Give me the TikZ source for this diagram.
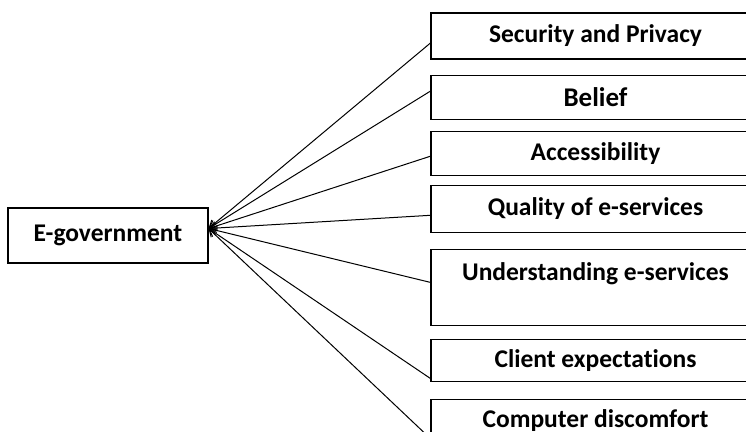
\documentclass[tikz,border=0pt]{standalone}
\usepackage{fontspec}
\setmainfont{Carlito}[Ligatures=NoCommon]
\usetikzlibrary{positioning,arrows.meta}
\tikzset{
    factor/.style={draw, line width=1.1pt, minimum width=329pt, inner sep=0pt,
        font=\bfseries\fontsize{25.5}{30}\selectfont},
    influence/.style={line width=1pt, -{Straight Barb[length=7pt,width=9pt]}}
}

\begin{document}
\begin{tikzpicture}[x=1pt,y=-1pt]
\useasboundingbox (0,0) rectangle (746,431);
\clip (0,0) rectangle (746,431);

\node[factor, minimum width=200pt, minimum height=55pt] (egov) at (108,235.5) {E-government};

\node[factor, minimum height=46pt] (sec) at (595.5,36) {Security and Privacy};
\node[factor, minimum height=44pt, below=15pt of sec] (bel) {\fontsize{27}{30}\selectfont Belief};
\node[factor, minimum height=44pt, below=11pt of bel] (acc) {Accessibility};
\node[factor, minimum height=47pt, below=9pt of acc] (qua) {Quality of e-services};
\node[factor, text height=31pt, text depth=45pt, below=16pt of qua] (und) {Understanding e-services};
\node[factor, minimum height=42pt, below=13pt of und] (cli) {Client expectations};
\node[factor, minimum height=42pt, below=17pt of cli] (com) {Computer discomfort};

\draw[influence] ([yshift=-7pt]sec.west) -- ([yshift=7pt]egov.east);
\draw[influence] ([yshift=6pt]bel.west) -- ([yshift=7pt]egov.east);
\draw[influence] ([yshift=-3pt]acc.west) -- ([yshift=7pt]egov.east);
\draw[influence] ([yshift=-6.5pt]qua.west) -- ([yshift=7pt]egov.east);
\draw[influence] ([yshift=5pt]und.west) -- ([yshift=7pt]egov.east);
\draw[influence] ([yshift=-18pt]cli.west) -- ([yshift=7pt]egov.east);
\draw[influence] ([yshift=-18pt]com.west) -- ([yshift=7pt]egov.east);
\end{tikzpicture}
\end{document}
